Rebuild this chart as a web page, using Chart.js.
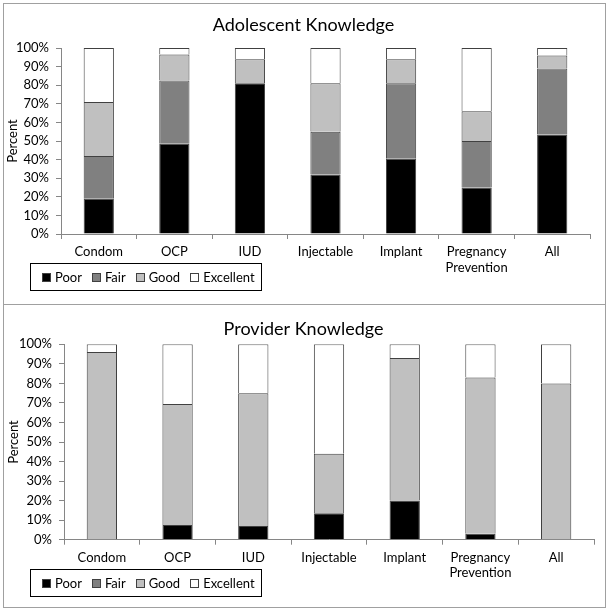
<!DOCTYPE html>
<html>
<head>
<meta charset="utf-8">
<script src="https://cdn.jsdelivr.net/npm/chart.js@4"></script>
<style>
  body { margin: 0; width: 607px; height: 610px; position: relative; background: #fff; font-family: Lato, sans-serif; }
  #frame { position: absolute; left: 3px; top: 3px; width: 601px; height: 603px; border: 1px solid #a0a0a0; }
  #divider { position: absolute; left: 3px; top: 304px; width: 603px; height: 1px; background: #a0a0a0; }
  canvas { position: absolute; left: 0; }
  .legend { position: absolute; left: 30px; width: 232px; height: 28px; box-sizing: border-box; border: 1px solid #000;
            display: flex; align-items: center; padding-left: 11px; gap: 10px; font-size: 13px; color: #000; }
  .legend span.item { display: flex; align-items: center; gap: 4px; }
  .legend span.sw { width: 7px; height: 7px; border: 1px solid #404040; display: inline-block; }
</style>
</head>
<body>
<div id="frame"></div>
<div id="divider"></div>
<canvas id="chart1" width="607" height="300" style="top:0"></canvas>
<canvas id="chart2" width="607" height="310" style="top:300px"></canvas>
<div class="legend" id="legend1" style="top:263px"></div>
<div class="legend" id="legend2" style="top:569px"></div>
<script>
const categories = ["Condom", "OCP", "IUD", "Injectable", "Implant", ["Pregnancy", "Prevention"], "All"];
const levels = ["Poor", "Fair", "Good", "Excellent"];
const levelColors = ["#000000", "#808080", "#c0c0c0", "#ffffff"];
const yTicks = [0, 10, 20, 30, 40, 50, 60, 70, 80, 90, 100];

// adolescent knowledge, percent
const adolPoor = [19, 48.5, 81, 32, 40.5, 25, 53.5];
const adolFair = [23, 34, 0, 23, 40.5, 25, 35.5];
const adolGood = [29, 14, 13, 26, 13, 16, 7];
const adolExcellent = [29, 3.5, 6, 19, 6, 34, 4];

// provider knowledge, percent
const provPoor = [0, 7.5, 7, 13.5, 20, 3, 0];
const provFair = [0, 0, 0, 0, 0, 0, 0];
const provGood = [96, 62, 68, 30.5, 73, 80, 80];
const provExcellent = [4, 30.5, 25, 56, 7, 17, 20];

Chart.defaults.font.family = "Lato, sans-serif";
Chart.defaults.font.size = 13;
Chart.defaults.color = "#000";

function makeChart(id, title, series, g) {
  const datasets = series.map((vals, i) => ({
    label: levels[i],
    data: vals,
    backgroundColor: levelColors[i],
    borderColor: "#404040",
    // no bottom edge, so stacked segments share a single 1px line
    borderWidth: (ctx) => (ctx.raw ? { top: 1, left: 1, right: 1, bottom: 0 } : 0),
    borderSkipped: false,
    categoryPercentage: 1,
    barPercentage: 0.4,
  }));
  return new Chart(document.getElementById(id), {
    type: "bar",
    data: { labels: categories, datasets: datasets },
    options: {
      responsive: false,
      animation: false,
      // equal side padding keeps the title centred on the page
      layout: { padding: { left: g.side, right: g.side, top: 0, bottom: 0 } },
      plugins: {
        legend: { display: false },
        tooltip: { enabled: false },
        title: {
          display: true,
          text: title,
          color: "#000",
          font: { size: 18, weight: "normal", lineHeight: 1.2 },
          padding: { top: g.titleTop, bottom: g.titleBottom },
        },
      },
      scales: {
        x: {
          stacked: true,
          grid: { drawOnChartArea: false, drawTicks: true, tickLength: 5, color: "#868686" },
          border: { color: "#868686" },
          ticks: { padding: 5, maxRotation: 0, autoSkip: false, font: { lineHeight: 1.2 } },
          afterFit: (s) => { s.height = g.xHeight; },
        },
        y: {
          stacked: true,
          min: 0,
          max: 100,
          afterBuildTicks: (s) => { s.ticks = yTicks.map((v) => ({ value: v })); },
          grid: { drawOnChartArea: false, drawTicks: true, tickLength: 5, color: "#868686" },
          border: { color: "#868686" },
          ticks: { padding: 7, callback: (v) => v + "%" },
          title: { display: true, text: "Percent", color: "#000", font: { size: 13 }, padding: { top: g.yTitlePad, bottom: 0 } },
          afterFit: (s) => { s.width = g.yWidth; },
        },
      },
    },
  });
}

function makeLegend(id) {
  const el = document.getElementById(id);
  levels.forEach((name, i) => {
    const item = document.createElement("span");
    item.className = "item";
    const sw = document.createElement("span");
    sw.className = "sw";
    sw.style.background = levelColors[i];
    item.appendChild(sw);
    item.appendChild(document.createTextNode(name));
    el.appendChild(item);
  });
}

makeChart("chart1", "Adolescent Knowledge", [adolPoor, adolFair, adolGood, adolExcellent],
  { side: 17, yWidth: 44, yTitlePad: -11.8, titleTop: 14, titleBottom: 12.4, xHeight: 66 });
makeChart("chart2", "Provider Knowledge", [provPoor, provFair, provGood, provExcellent],
  { side: 13, yWidth: 51, yTitlePad: -7.3, titleTop: 18.5, titleBottom: 4.2, xHeight: 70.3 });
makeLegend("legend1");
makeLegend("legend2");
</script>
</body>
</html>
